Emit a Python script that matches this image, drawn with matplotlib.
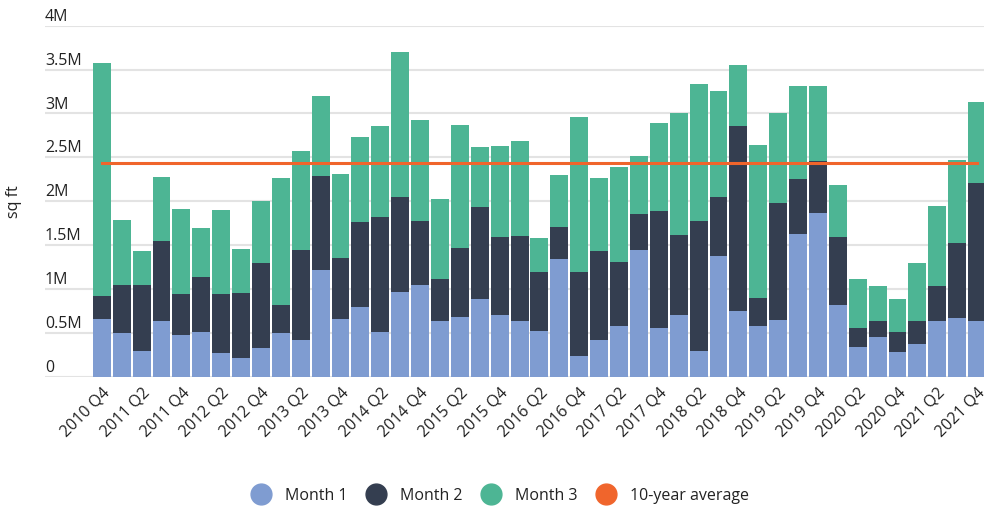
import numpy as np
import matplotlib.pyplot as plt
from matplotlib.lines import Line2D
from matplotlib.ticker import FixedLocator

# quarterly take-up, million sq ft, split by month of quarter
quarters = []
for yr in range(2010, 2022):
    for q in range(1, 5):
        if yr == 2010 and q < 4:
            continue
        quarters.append(f"{yr} Q{q}")

month1 = [0.66, 0.50, 0.29, 0.64, 0.47, 0.51, 0.27, 0.21, 0.33, 0.50,
          0.42, 1.21, 0.66, 0.79, 0.51, 0.96, 1.04, 0.63, 0.68, 0.89,
          0.70, 0.63, 0.52, 1.34, 0.24, 0.42, 0.58, 1.44, 0.55, 0.70,
          0.29, 1.37, 0.75, 0.58, 0.65, 1.63, 1.87, 0.82, 0.34, 0.45,
          0.28, 0.37, 0.64, 0.67, 0.64]
cum2 = [0.92, 1.05, 1.04, 1.55, 0.94, 1.14, 0.94, 0.95, 1.29, 0.82,
        1.44, 2.29, 1.35, 1.76, 1.82, 2.05, 1.77, 1.11, 1.47, 1.93,
        1.59, 1.60, 1.19, 1.71, 1.19, 1.43, 1.31, 1.85, 1.89, 1.61,
        1.77, 2.05, 2.86, 0.90, 1.98, 2.25, 2.46, 1.59, 0.56, 0.64,
        0.51, 0.64, 1.03, 1.52, 2.21]
total = [3.58, 1.79, 1.43, 2.28, 1.91, 1.69, 1.90, 1.45, 2.00, 2.26,
         2.57, 3.20, 2.31, 2.73, 2.86, 3.70, 2.93, 2.03, 2.87, 2.62,
         2.63, 2.69, 1.58, 2.30, 2.96, 2.26, 2.39, 2.52, 2.89, 3.01,
         3.33, 3.26, 3.55, 2.64, 3.01, 3.31, 3.31, 2.18, 1.11, 1.03,
         0.89, 1.30, 1.95, 2.47, 3.13]
avg_10yr = 2.435

m1 = np.array(month1) * 1e6
m2 = (np.array(cum2) - np.array(month1)) * 1e6
m3 = (np.array(total) - np.array(cum2)) * 1e6

c1, c2, c3, corange = '#7f9cd1', '#343e50', '#4db594', '#f0652c'
txt = '#222222'
plt.rcParams['font.family'] = ['Open Sans', 'DejaVu Sans']

fig = plt.figure(figsize=(9.84, 5.09), dpi=100)
ax = fig.add_axes([0.0457, 0.26, 0.9543, 0.6895])

x = np.arange(len(quarters))
w = 0.9
ax.bar(x, m1, w, color=c1, zorder=2)
ax.bar(x, m2, w, bottom=m1, color=c2, zorder=2)
ax.bar(x, m3, w, bottom=m1 + m2, color=c3, zorder=2)
ax.plot([x[0], x[-1]], [avg_10yr * 1e6] * 2, color=corange, lw=2.2, zorder=3)

ax.set_xlim(-2.86, 44.35)
ax.set_ylim(0, 4e6)

yticks = [0, 0.5e6, 1e6, 1.5e6, 2e6, 2.5e6, 3e6, 3.5e6, 4e6]
ylabels = ['0', '0.5M', '1M', '1.5M', '2M', '2.5M', '3M', '3.5M', '4M']
for v in yticks:
    ax.axhline(v, color='#e3e3e3', lw=1.5, zorder=1)
for v, lab in zip(yticks, ylabels):
    ax.text(0.0, v + 0.055e6, lab, transform=ax.get_yaxis_transform(),
            ha='left', va='baseline', fontsize=11.5, color=txt)
ax.set_yticks([])
ax.text(-0.033, 0.5, 'sq ft', transform=ax.transAxes, rotation=90,
        ha='center', va='center', fontsize=11.5, color=txt)

ax.xaxis.set_major_locator(FixedLocator(x[::2]))
ax.set_xticklabels(quarters[::2], rotation=45, ha='right',
                   rotation_mode='anchor', fontsize=11.5, color=txt)
ax.tick_params(axis='x', length=0, pad=6)
for s in ax.spines.values():
    s.set_visible(False)

handles = [Line2D([], [], marker='o', ls='', ms=15, color=c) for c in (c1, c2, c3, corange)]
fig.legend(handles, ['Month 1', 'Month 2', 'Month 3', '10-year average'],
           loc='center', bbox_to_anchor=(0.505, 0.026), ncol=4, frameon=False,
           fontsize=11.5, handletextpad=0.5, columnspacing=0.8,
           labelcolor=txt)

fig.savefig('out.png', dpi=100)
